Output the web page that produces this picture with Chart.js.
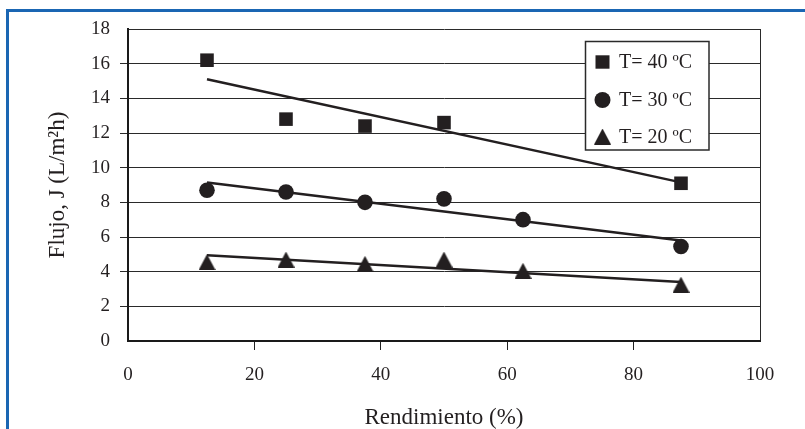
<!DOCTYPE html>
<html>
<head>
<meta charset="utf-8">
<script src="https://cdn.jsdelivr.net/npm/chart.js@4/dist/chart.umd.min.js"></script>
<style>
  html, body { margin: 0; padding: 0; background: #fff; }
  #wrap { position: relative; width: 805px; height: 429px; }
</style>
</head>
<body>
<div id="wrap"><canvas id="grafico"></canvas></div>
<script>
// Flujo de permeado frente al rendimiento, a tres temperaturas
const rendimiento = [12.5, 25, 37.5, 50, 62.5, 87.5];
const rendimiento40 = [12.5, 25, 37.5, 50, 87.5];
const flujo40 = [16.2, 12.8, 12.4, 12.6, 9.1];
const flujo30 = [8.7, 8.6, 8.0, 8.2, 7.0, 5.45];
const flujo20 = [4.55, 4.7, 4.45, 4.7, 4.05, 3.25];

// Rectas de tendencia (extremos)
const tendenciaX = [12.5, 87.5];
const tendencia40 = [15.1, 9.15];
const tendencia30 = [9.15, 5.8];
const tendencia20 = [4.95, 3.4];

const xTicks = [0, 20, 40, 60, 80, 100];
const yTicks = [0, 2, 4, 6, 8, 10, 12, 14, 16, 18];
const etiquetas = ['T= 40 ºC', 'T= 30 ºC', 'T= 20 ºC'];
const tituloX = 'Rendimiento (%)';
const tituloY = 'Flujo, J (L/m²h)';

const TINTA = '#231f20';
const SERIF = '"Liberation Serif", "Times New Roman", serif';

function puntos(xs, ys) { return xs.map((x, i) => ({ x: x, y: ys[i] })); }

// Triángulo centrado en su caja, como marcador
function marcadorTriangulo(w, h, color) {
  const c = document.createElement('canvas');
  c.width = w; c.height = h;
  const g = c.getContext('2d');
  g.fillStyle = color;
  g.beginPath();
  g.moveTo(w / 2, 0);
  g.lineTo(w, h);
  g.lineTo(0, h);
  g.closePath();
  g.fill();
  return c;
}
const triangulo = marcadorTriangulo(17, 16, TINTA);

// Marco azul exterior
const marco = {
  id: 'marco',
  beforeDraw(chart) {
    const ctx = chart.ctx;
    ctx.save();
    ctx.fillStyle = '#1a66b3';
    ctx.fillRect(6, 9, 3, chart.height - 9);
    ctx.fillRect(6, 9, chart.width - 6, 3);
    ctx.restore();
  }
};

// Leyenda en caja dentro del área del gráfico
const leyenda = {
  id: 'leyenda',
  afterDraw(chart) {
    const ctx = chart.ctx;
    const bx = 585.5, by = 41.5, bw = 123.5, bh = 108.5;
    ctx.save();
    ctx.fillStyle = '#fff';
    ctx.fillRect(bx, by, bw, bh);
    ctx.strokeStyle = '#2a2a2a';
    ctx.lineWidth = 1.5;
    ctx.strokeRect(bx, by, bw, bh);
    const filas = [62, 100, 136.5];
    const mx = 602.5;
    ctx.fillStyle = TINTA;
    // cuadrado
    ctx.fillRect(mx - 7, filas[0] - 6.7, 14, 13.4);
    // círculo
    ctx.beginPath();
    ctx.arc(mx, filas[1], 8, 0, Math.PI * 2);
    ctx.fill();
    // triángulo
    ctx.drawImage(triangulo, mx - 8.5, filas[2] - 8);
    ctx.font = '20px ' + SERIF;
    ctx.textAlign = 'left';
    ctx.textBaseline = 'middle';
    etiquetas.forEach((t, i) => ctx.fillText(t, 619, filas[i] + 1));
    ctx.restore();
  }
};

const serie = (datos, estilo, radio) => ({
  type: 'scatter',
  data: datos,
  showLine: false,
  pointStyle: estilo,
  pointRadius: radio,
  pointHoverRadius: radio,
  pointBackgroundColor: TINTA,
  pointBorderColor: TINTA,
  pointBorderWidth: 0
});

const recta = (ys) => ({
  type: 'line',
  data: puntos(tendenciaX, ys),
  borderColor: TINTA,
  borderWidth: 2.5,
  pointRadius: 0,
  fill: false,
  tension: 0
});

new Chart(document.getElementById('grafico'), {
  type: 'scatter',
  data: {
    datasets: [
      Object.assign(serie(puntos(rendimiento40, flujo40), 'rect', 9.6), { label: etiquetas[0] }),
      Object.assign(serie(puntos(rendimiento, flujo30), 'circle', 7.8), { label: etiquetas[1] }),
      Object.assign(serie(puntos(rendimiento, flujo20), triangulo, 8), { label: etiquetas[2] }),
      recta(tendencia40),
      recta(tendencia30),
      recta(tendencia20)
    ]
  },
  options: {
    responsive: true,
    maintainAspectRatio: false,
    animation: false,
    layout: { padding: { left: 0, top: 29, right: 45, bottom: 0 } },
    plugins: {
      legend: { display: false },
      tooltip: { enabled: false },
      title: { display: false }
    },
    scales: {
      x: {
        type: 'linear',
        min: xTicks[0],
        max: xTicks[xTicks.length - 1],
        afterBuildTicks: (s) => { s.ticks = xTicks.map(v => ({ value: v })); },
        afterFit: (s) => { s.height = 88; },
        border: { display: true, color: '#1a1a1a', width: 2 },
        grid: {
          drawOnChartArea: true,
          color: (c) => (c.tick && c.tick.value === 100) ? '#2a2a2a' : 'rgba(0,0,0,0)',
          tickColor: (c) => (c.tick && (c.tick.value === 0 || c.tick.value === 100)) ? 'rgba(0,0,0,0)' : '#222',
          tickLength: 9,
          lineWidth: 1
        },
        ticks: {
          color: TINTA,
          font: { family: SERIF, size: 19 },
          padding: 14,
          maxRotation: 0
        },
        title: {
          display: true,
          text: tituloX,
          color: TINTA,
          font: { family: SERIF, size: 23, lineHeight: 1 },
          padding: { top: 0, bottom: 0 }
        }
      },
      y: {
        type: 'linear',
        min: yTicks[0],
        max: yTicks[yTicks.length - 1],
        afterBuildTicks: (s) => { s.ticks = yTicks.map(v => ({ value: v })); },
        afterFit: (s) => { s.width = 128; },
        border: { display: true, color: '#1a1a1a', width: 2 },
        grid: {
          color: '#2a2a2a',
          tickColor: (c) => (c.tick && (c.tick.value === 0 || c.tick.value === 18)) ? 'rgba(0,0,0,0)' : '#2a2a2a',
          tickLength: 8,
          lineWidth: 1
        },
        ticks: {
          color: TINTA,
          font: { family: SERIF, size: 19 },
          padding: 10
        },
        title: {
          display: true,
          text: tituloY,
          color: TINTA,
          font: { family: SERIF, size: 23, lineHeight: 1 },
          padding: { top: 46, bottom: 0 }
        }
      }
    }
  },
  plugins: [marco, leyenda]
});
</script>
</body>
</html>
